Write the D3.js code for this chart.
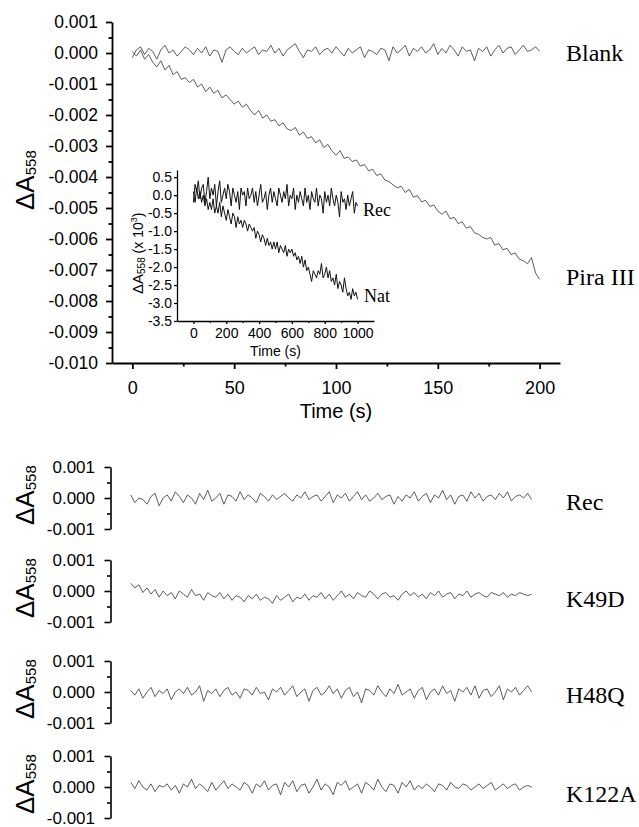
<!DOCTYPE html>
<html><head><meta charset="utf-8">
<script src="https://cdn.jsdelivr.net/npm/d3@7"></script>
<style>body{margin:0;background:#fff}</style>
</head><body><svg id="c" width="639" height="827" xmlns="http://www.w3.org/2000/svg"></svg>
<script>
// ---------- DATA (absorbance values in units of 1e-4 unless noted) ----------
const mainYTicks = [0.001, 0, -0.001, -0.002, -0.003, -0.004, -0.005, -0.006, -0.007, -0.008, -0.009, -0.010];
const mainYMinor = [0.0005, -0.0005, -0.0015, -0.0025, -0.0035, -0.0045, -0.0055, -0.0065, -0.0075, -0.0085, -0.0095];
const mainXTicks = [0, 50, 100, 150, 200];
const mainXMinor = [25, 75, 125, 175];
const mainSeriesNames = ["Blank", "Pira III"];
// Blank trace, t = 0..200 s (x1e-4)
const blank = [-1.5,1,2,-0.5,1.5,0.5,-2,1,2.5,0,1,-1,0.5,2,1,-0.5,1.5,0,2,-1,1,0.5,-3,1,2,0.5,-0.5,1.5,0,1,2,-0.5,1,0.5,2.5,0,1.5,-1,1,2,3,0.5,-1.5,1,0.5,2,-0.5,1,1.5,0,2,0.5,-1,1.5,0,1,2,-1.5,1,0.5,-0.5,1.5,1,-2.5,2,0,1,2.5,-1,1.5,0.5,2,0,1,3,-0.5,1.5,0,2.5,1,-1,2,0.5,1,-2.5,1.5,0.5,2,-1,1,2.5,0,1.5,2,-0.5,1,2.5,0.5,1,2,0.5];
// Pira III trace, t = 0..200 s (x1e-4)
const pira = [0.5,-1,1,-2,-0.5,-3,-4.5,-2.5,-5.5,-4,-7,-6,-8.5,-8,-9.5,-8.5,-11,-10,-12.5,-11,-13,-12,-14.5,-13.5,-15,-16.5,-15.5,-17.5,-16.5,-18.5,-20,-18.5,-21,-20,-22,-21.5,-23.5,-22.5,-24.5,-25,-24,-26.5,-25.5,-27.5,-27,-29,-28,-30.5,-29.5,-31.5,-33,-31.5,-34,-33.5,-35,-34.5,-36.5,-36,-38,-37.5,-39.5,-39,-41,-41.5,-42.5,-43.5,-43,-45,-44,-46.5,-46,-48,-47.5,-49.5,-49,-51,-52,-51,-53.5,-53,-55,-54.5,-56.5,-56,-58,-58.5,-59.5,-60,-59.5,-62,-61.5,-63.5,-63,-65,-64.5,-66.5,-67,-68,-66,-71,-73];

// Inset (values in units of 1e-3, t = 0..1000 s)
const insetYTicks = [0.5, 0, -0.5, -1, -1.5, -2, -2.5, -3, -3.5];
const insetXTicks = [0, 200, 400, 600, 800, 1000];
const insetXMinor = [100, 300, 500, 700, 900];
const insetNames = ["Rec", "Nat"];
const insetRec = [-0.2,0.3,0.1,0.4,-0.1,0.2,0.3,-0.2,0.1,0.5,-0.1,0.2,0,0.3,-0.3,0.1,0.4,-0.2,0,0.2,-0.1,0.3,0.1,-0.3,0.2,0,-0.2,0.1,-0.4,0.2,0,0.1,-0.3,0.2,-0.1,0,0.2,-0.2,0.1,-0.3,0,0.3,-0.2,-0.1,0.1,-0.4,0,0.2,-0.2,0.1,-0.1,-0.3,0.2,0,-0.2,0.1,-0.1,0.3,-0.3,0,-0.1,0.2,-0.4,0,-0.2,0.1,-0.1,-0.3,0.2,-0.2,0,-0.4,0.1,-0.1,-0.2,0.2,-0.3,0,-0.1,-0.5,0.1,-0.2,0,-0.3,0.2,-0.1,-0.3,0,-0.2,-0.6,0.1,-0.2,-0.1,-0.4,0,-0.3,-0.1,0.1,-0.5,-0.2,-0.3];
const insetNat = [0.1,-0.2,0.2,-0.1,0.1,-0.2,0,-0.3,-0.1,-0.4,-0.2,-0.4,-0.1,-0.5,-0.3,-0.5,-0.2,-0.6,-0.3,-0.5,-0.7,-0.4,-0.6,-0.8,-0.5,-0.6,-0.9,-0.6,-0.8,-0.7,-0.9,-0.7,-0.8,-1.0,-0.8,-0.9,-1.0,-0.9,-1.2,-1.0,-1.1,-1.3,-1.1,-1.2,-1.4,-1.2,-1.4,-1.3,-1.5,-1.3,-1.5,-1.3,-1.6,-1.4,-1.5,-1.6,-1.4,-1.7,-1.5,-1.6,-1.5,-1.7,-1.6,-1.8,-1.7,-1.9,-1.7,-2.0,-1.8,-2.1,-2.0,-2.2,-2.4,-2.1,-2.2,-2.3,-2.1,-2.2,-1.9,-2.3,-2.2,-2.0,-2.3,-2.1,-2.4,-2.3,-2.5,-2.2,-2.6,-2.4,-2.5,-2.7,-2.3,-2.6,-2.8,-2.7,-2.9,-2.6,-2.8,-2.7,-2.9];

// Lower panels, t = 0..198 s (x1e-4)
const lowYTicks = [0.001, 0, -0.001];
const lowYMinor = [0.0005, -0.0005];
const lowNames = ["Rec", "K49D", "H48Q", "K122A"];
const lowRec = [1,-1.5,0,-0.5,-2,0.5,1.5,-2.5,0,1,-1,2,0.5,-1.5,1,0,-2,1.5,-0.5,2.5,-1,0,1.5,-2,1,0.5,-1,2,-0.5,1,0,-1.5,1.5,0.5,-1,1,-0.5,0.5,1.5,0,-1,1,0,2,-0.5,0.5,1,-1,0.5,2,-1.5,1,0,1.5,-1,0.5,2,-0.5,1,-1,0,1.5,-0.5,0.5,1,-2,0.5,-1,1,0,2,-1,0.5,1.5,-1.5,1,0,2.5,-0.5,1,-2,0.5,1,-1,2,0,1.5,-1,0.5,1,-0.5,1.5,0,2,-1,0.5,1,0,1.5,-0.5];
const lowK49D = [2.5,1,2,-0.5,1,-1,0.5,-2,0,-1.5,-0.5,-2.5,0,-1,-2,0.5,-1.5,-1,-3,-0.5,-1.5,-2,-0.5,-2.5,-1,-3,-1.5,-2,-3.5,-1.5,-2.5,-1,-3,-2,-2.5,-4,-1.5,-3,-2,-1,-3.5,-2,-2.5,-1,-3,-1.5,-2,-0.5,-2.5,-1,-3,-1.5,0,-2,-1,-2.5,-0.5,-1.5,-2,0,-1,-2.5,-1,-0.5,-2,-1.5,-3,-1,0,-1.5,-0.5,-2,-1,-2.5,-0.5,-1.5,0,-2,-1,-0.5,-2.5,-1,-1.5,0,-2,-1,-0.5,-1.5,-2,-0.5,-1,-1.5,-0.5,-2,-1,-1.5,-0.5,-1,-1.5,-1];
const lowH48Q = [0.5,-1,1,-2,0,1.5,-1.5,0.5,-0.5,1,-2.5,0,1,-0.5,1.5,-1,0,2,-3,0.5,-0.5,1,-1.5,0.5,1.5,-1,0,-2,1,0.5,-1,1.5,-0.5,0,-2.5,1,0,1.5,-1,0.5,2,-1.5,0,1,-3,0.5,1.5,-1,0,2,-0.5,1,-2,0.5,1.5,-1.5,0,-3.5,1,0.5,-1,2,0,-1.5,1,-0.5,2.5,-1,0,1,-2,0.5,1.5,-2.5,0,1,-1,2,-0.5,0.5,-3,1,0,1.5,-1,2,-2,0.5,1,-1.5,0,2,-2.5,1,0,1.5,-1,0.5,2,0];
const lowK122A = [1.5,-0.5,2,0,-1,1,-1.5,0.5,0,1,-1,0.5,-2,1,0,2.5,-0.5,1,0,-1.5,1.5,-1,0.5,2,-0.5,1,0,-1,1.5,0.5,-2,1,0,2,-1,0.5,1,-2.5,1.5,0,2,-1.5,0.5,1,-2,0,2.5,-1,1,0,-2.5,1.5,0.5,2,-1,0,1,-2,1.5,0.5,-1,2.5,0,-1.5,1,0.5,-2,1.5,0,2,-1,0.5,-0.5,1,0,-1.5,1,0.5,-1,1.5,0,-0.5,1,0.5,-1,0,1,-0.5,0.5,1.5,-1,0,1,-0.5,0.5,1,-1,0,0.5,0];
const lowSeries = [lowRec, lowK49D, lowH48Q, lowK122A];

// ---------- DRAWING ----------
const SANS = "'Liberation Sans', Arial, Helvetica, sans-serif";
const SERIF = "'Liberation Serif', 'Times New Roman', serif";
const svg = d3.select("#c");
const hy = s => s.replace(/\u2212/g, "-");
const f3 = v => hy(d3.format(".3f")(v));
const f1 = v => hy(d3.format(".1f")(v));
const f0 = v => d3.format("d")(v);

function styleAxis(g, fs, sw) {
  g.attr("font-family", SANS).attr("font-size", fs);
  g.select(".domain").attr("stroke", "#000").attr("stroke-width", sw);
  g.selectAll(".tick line").attr("stroke", "#000").attr("stroke-width", sw);
  g.selectAll(".tick text").attr("fill", "#000");
}
function yAxis(x, ys, majors, minors, fmt, fs, pad, sw, big, small) {
  const g = svg.append("g").attr("transform", `translate(${x},0)`)
    .call(d3.axisLeft(ys).tickValues(majors).tickSize(big).tickSizeOuter(0).tickPadding(pad).tickFormat(fmt));
  styleAxis(g, fs, sw);
  if (minors) {
    const m = svg.append("g").attr("transform", `translate(${x},0)`)
      .call(d3.axisLeft(ys).tickValues(minors).tickSize(small).tickFormat(""));
    m.select(".domain").remove();
    m.selectAll(".tick line").attr("stroke", "#000").attr("stroke-width", sw);
  }
}
function xAxis(y, xs, majors, minors, fmt, fs, pad, sw, big, small) {
  const g = svg.append("g").attr("transform", `translate(0,${y})`)
    .call(d3.axisBottom(xs).tickValues(majors).tickSize(big).tickSizeOuter(0).tickPadding(pad).tickFormat(fmt));
  styleAxis(g, fs, sw);
  if (minors) {
    const m = svg.append("g").attr("transform", `translate(0,${y})`)
      .call(d3.axisBottom(xs).tickValues(minors).tickSize(small).tickFormat(""));
    m.select(".domain").remove();
    m.selectAll(".tick line").attr("stroke", "#000").attr("stroke-width", sw);
  }
}
function trace(data, tEnd, xs, ys, k, color, w) {
  const step = tEnd / (data.length - 1);
  svg.append("path").datum(data)
    .attr("fill", "none").attr("stroke", color).attr("stroke-width", w).attr("stroke-linejoin", "round")
    .attr("d", d3.line().x((d, i) => xs(i * step)).y(d => ys(d * k)));
}
function yTitle(x, yStart, big, small) {
  const t = svg.append("text").attr("transform", `translate(${x},${yStart}) rotate(-90)`)
    .attr("font-family", SANS).attr("fill", "#000");
  t.append("tspan").attr("font-size", big).text("\u0394A");
  t.append("tspan").attr("font-size", small).attr("dy", 2).text("558");
}

// ---- main panel ----
const xMain = d3.scaleLinear().domain([-10, 210]).range([112, 560]);
const yMain = d3.scaleLinear().domain([-0.010, 0.001]).range([363, 22]);
trace(blank, 200, xMain, yMain, 1e-4, "#333", 0.8);
trace(pira, 200, xMain, yMain, 1e-4, "#333", 0.8);
yAxis(112, yMain, mainYTicks, mainYMinor, f3, 17.5, 8, 1.8, 6, 3.5);
xAxis(363, xMain, mainXTicks, mainXMinor, f0, 18, 12.5, 1.8, 6, 3.5);
svg.append("text").attr("x", xMain(100)).attr("y", 418).attr("text-anchor", "middle")
  .attr("font-family", SANS).attr("font-size", 20).text("Time (s)");
yTitle(34, 210, 26, 15);
svg.append("text").attr("x", 566).attr("y", 61).attr("font-family", SERIF).attr("font-size", 24).text(mainSeriesNames[0]);
svg.append("text").attr("x", 566).attr("y", 285).attr("font-family", SERIF).attr("font-size", 24).text(mainSeriesNames[1]);

// ---- inset ----
const xIn = d3.scaleLinear().domain([-100, 1100]).range([177, 374]);
const yIn = d3.scaleLinear().domain([-3.5, 0.7]).range([321, 170]);
trace(insetNat, 1000, xIn, yIn, 1, "#111", 1.0);
trace(insetRec, 1000, xIn, yIn, 1, "#111", 1.0);
yAxis(177, yIn, insetYTicks, null, f1, 14, 2, 1.3, 3, 2);
xAxis(321, xIn, insetXTicks, insetXMinor, f0, 14, 4, 1.3, 3, 2);
svg.append("text").attr("x", xIn(500)).attr("y", 356).attr("text-anchor", "middle")
  .attr("font-family", SANS).attr("font-size", 14).text("Time (s)");
{
  const t = svg.append("text").attr("transform", "translate(143,294) rotate(-90)")
    .attr("font-family", SANS).attr("fill", "#000");
  t.append("tspan").attr("font-size", 15).text("\u0394A");
  t.append("tspan").attr("font-size", 10).attr("dy", 2).text("558");
  t.append("tspan").attr("font-size", 14).attr("dy", -2).text("\u00a0(x 10");
  t.append("tspan").attr("font-size", 9).attr("dy", -6).text("3");
  t.append("tspan").attr("font-size", 14).attr("dy", 6).text(")");
}
svg.append("text").attr("x", 363).attr("y", 216).attr("font-family", SERIF).attr("font-size", 18).text(insetNames[0]);
svg.append("text").attr("x", 364).attr("y", 302).attr("font-family", SERIF).attr("font-size", 18).text(insetNames[1]);

// ---- lower panels ----
const zeroY = [498, 591, 692, 787];
const xLow = d3.scaleLinear().domain([-10, 210]).range([110.5, 556]);
const labelBase = [510, 607, 703, 802];
lowSeries.forEach((data, i) => {
  const z = zeroY[i];
  const y = d3.scaleLinear().domain([-0.001, 0.001]).range([z + 31, z - 31]);
  trace(data, 198, xLow, y, 1e-4, "#333", 0.8);
  yAxis(110.5, y, lowYTicks, lowYMinor, f3, 17, 9.5, 1.6, 6, 3.5);
  yTitle(34, z + 27, 26, 15);
  svg.append("text").attr("x", 566).attr("y", labelBase[i]).attr("font-family", SERIF).attr("font-size", 24).text(lowNames[i]);
});
</script></body></html>
